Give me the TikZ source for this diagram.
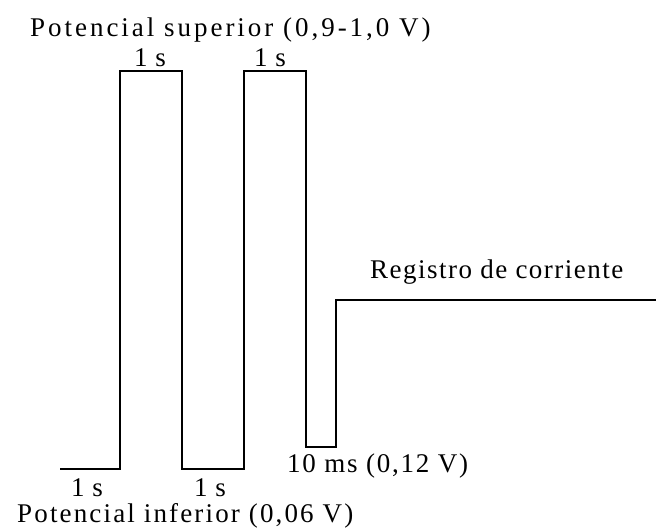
\documentclass[tikz,border=0pt]{standalone}
\usepackage{fontspec}
\setmainfont{Liberation Serif}
\begin{document}
\begin{tikzpicture}[x=1pt,y=1pt,
  wave/.style={line width=2.4pt, line join=miter},
  lbl/.style={inner sep=0pt, font=\fontsize{27}{30}\selectfont\addfontfeature{LetterSpace=#1}},
  lbl/.default=4]
\useasboundingbox (0,0) rectangle (656,531);
% potential programme: two pulses, short dip, then recording level
\coordinate (s0) at (60,62);
\coordinate (p1a) at (120,62);
\coordinate (p1b) at (120,460);
\coordinate (p1c) at (182,460);
\coordinate (p1d) at (182,62);
\coordinate (p2a) at (244,62);
\coordinate (p2b) at (244,460);
\coordinate (p2c) at (306,460);
\coordinate (dipa) at (306,84);
\coordinate (dipb) at (336,84);
\coordinate (reca) at (336,231);
\coordinate (recb) at (656,231);
\draw[wave] (s0) -- (p1a) -- (p1b) -- (p1c) -- (p1d) -- (p2a) -- (p2b) -- (p2c)
  -- (dipa) -- (dipb) -- (reca) -- (recb);
% labels
\node[lbl=11, anchor=base west] (sup) at (30,494) {Potencial superior (0,9-1,0 V)};
\node[lbl, anchor=base] (t1) at (150,464) {1 s};
\node[lbl, anchor=base] (t2) at (270,464) {1 s};
\node[lbl, anchor=base] (b1) at (87,35) {1 s};
\node[lbl, anchor=base] (b2) at (210,35) {1 s};
\node[lbl=8, anchor=base west] (inf) at (17,9) {Potencial inferior (0,06 V)};
\node[lbl=6.5, anchor=base west] (dip) at (287,59) {10 ms (0,12 V)};
\node[lbl=5.5, anchor=base west] (reg) at (370,253) {Registro de corriente};
\end{tikzpicture}
\end{document}
